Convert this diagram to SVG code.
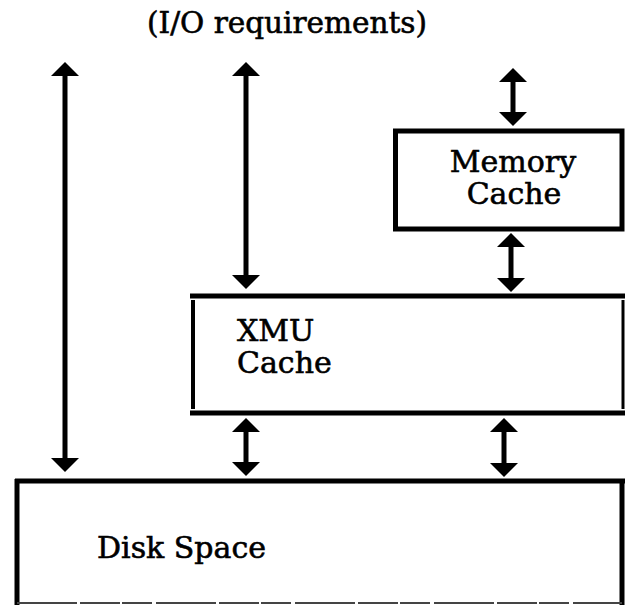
<svg xmlns="http://www.w3.org/2000/svg" width="625" height="605" viewBox="0 0 625 605">
  <style>
    .t { font-family: "DejaVu Serif", "Liberation Serif", serif; font-size: 30px; fill: #000; stroke: #000; stroke-width: 0.6px; }
    .box { fill: none; stroke: #000; }
    .conn line { stroke: #000; stroke-width: 5; marker-start: url(#ah); marker-end: url(#ah); }
  </style>
  <defs>
    <marker id="ah" markerUnits="userSpaceOnUse" viewBox="-1 -15 17 30" markerWidth="17" markerHeight="30" refX="0" refY="0" orient="auto-start-reverse">
      <path d="M0,-14 L14,0 L0,14 Z" fill="#000"/>
    </marker>
  </defs>
  <rect width="625" height="605" fill="#fff"/>

  <text id="title" class="t" x="287" y="33" text-anchor="middle" style="font-size:29.5px">(I/O requirements)</text>

  <g id="memory-cache">
    <rect class="box" x="395.5" y="131" width="226.5" height="98" stroke-width="5"/>
    <text class="t" x="513" y="172" text-anchor="middle">Memory</text>
    <text class="t" x="514" y="204" text-anchor="middle">Cache</text>
  </g>

  <g id="xmu-cache">
    <line x1="190" y1="296" x2="625" y2="296" stroke="#000" stroke-width="5"/>
    <line x1="190" y1="413" x2="625" y2="413" stroke="#000" stroke-width="5"/>
    <line x1="193" y1="300" x2="193" y2="409" stroke="#000" stroke-width="4"/>
    <line x1="623" y1="300" x2="623" y2="409" stroke="#000" stroke-width="3"/>
    <text class="t" x="237" y="341">XMU</text>
    <text class="t" x="237" y="373">Cache</text>
  </g>

  <g id="disk-space">
    <line x1="15" y1="481" x2="625" y2="481" stroke="#000" stroke-width="5"/>
    <line x1="17" y1="479" x2="17" y2="605" stroke="#000" stroke-width="5"/>
    <line x1="622" y1="479" x2="622" y2="605" stroke="#000" stroke-width="5"/>
    <line x1="17" y1="603" x2="622" y2="603" stroke="#444" stroke-width="2" stroke-dasharray="60 3 40 2 30 4"/>
    <text class="t" x="97" y="558">Disk Space</text>
  </g>

  <g id="connectors" class="conn">
    <line x1="65" y1="76" x2="65" y2="458"/>
    <line x1="246" y1="76" x2="246" y2="275"/>
    <line x1="513" y1="82" x2="513" y2="112"/>
    <line x1="511" y1="247" x2="511" y2="278"/>
    <line x1="246" y1="432" x2="246" y2="462"/>
    <line x1="504" y1="432" x2="504" y2="463"/>
  </g>
</svg>
